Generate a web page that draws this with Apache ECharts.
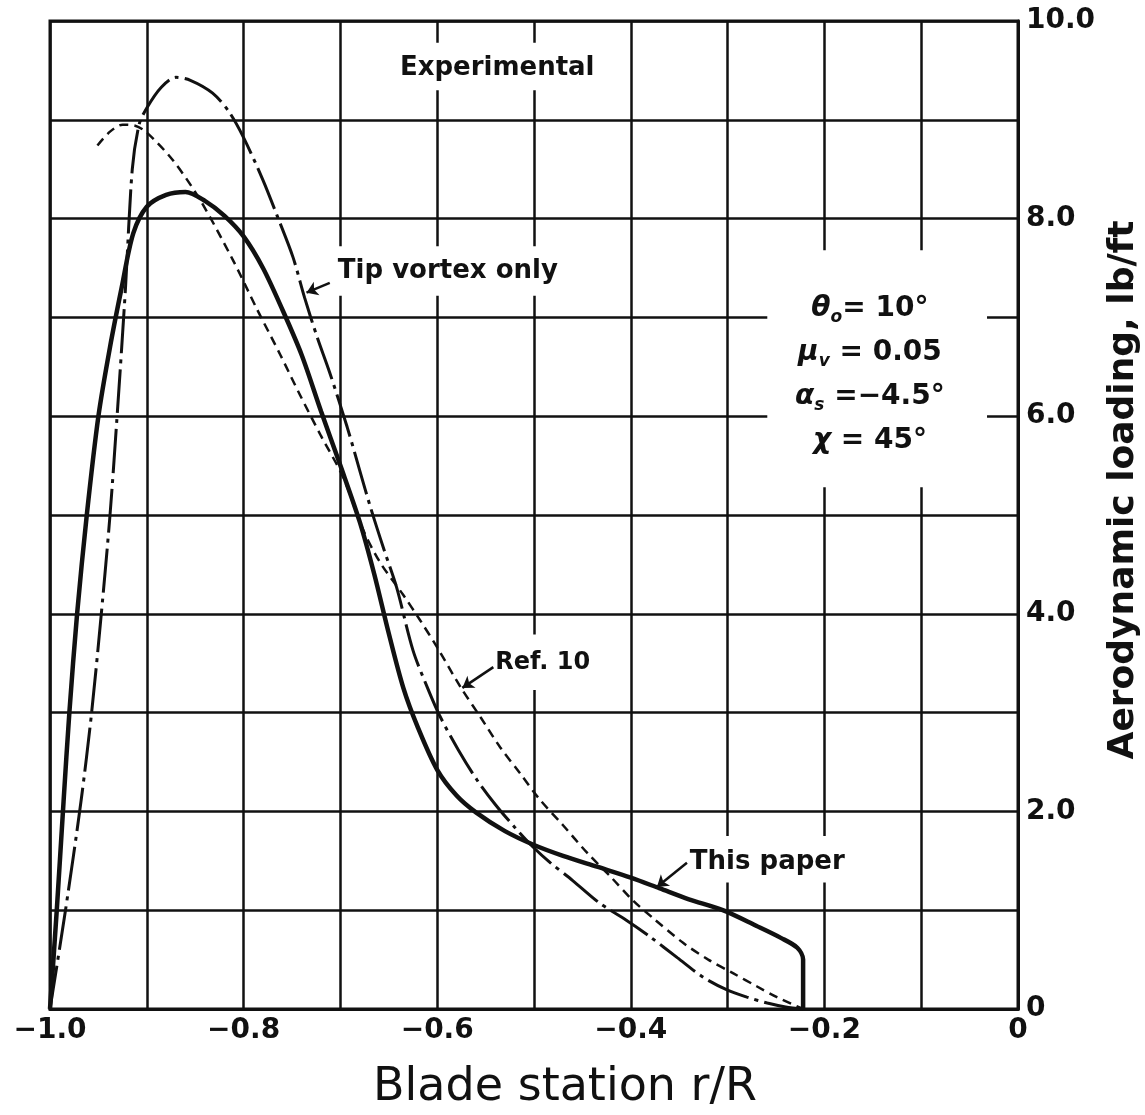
<!DOCTYPE html>
<html>
<head>
<meta charset="utf-8">
<script src="https://cdn.jsdelivr.net/npm/echarts@6/dist/echarts.min.js"></script>
<style>
  html, body { margin: 0; padding: 0; background: #fff; }
  #chart { width: 1145px; height: 1115px; }
</style>
</head>
<body>
<div id="chart"></div>
<script>
// tick labels (only every other grid line carries a label)
const xTickLabels = ['\u22121.0', '\u22120.8', '\u22120.6', '\u22120.4', '\u22120.2', '0'];
const yTickLabels = ['0', '2.0', '4.0', '6.0', '8.0', '10.0'];

// "This paper" - heavy solid curve [r/R, lb/ft]
const thisPaper = [
  [-1.0, 0], [-0.993, 1.0], [-0.986, 2.1], [-0.980, 3.0], [-0.972, 4.0], [-0.962, 5.0],
  [-0.950, 6.0], [-0.938, 6.7], [-0.926, 7.3], [-0.914, 7.85], [-0.900, 8.12], [-0.880, 8.24],
  [-0.860, 8.27], [-0.840, 8.18], [-0.820, 8.03], [-0.800, 7.82], [-0.780, 7.50], [-0.760, 7.08],
  [-0.740, 6.62], [-0.720, 6.05], [-0.700, 5.50], [-0.680, 4.93], [-0.665, 4.40], [-0.650, 3.80],
  [-0.635, 3.25], [-0.620, 2.85], [-0.600, 2.42], [-0.580, 2.16], [-0.560, 1.99], [-0.530, 1.80],
  [-0.500, 1.66], [-0.470, 1.55], [-0.435, 1.44], [-0.400, 1.33], [-0.370, 1.22], [-0.340, 1.11],
  [-0.305, 1.00], [-0.270, 0.84], [-0.245, 0.72], [-0.228, 0.62], [-0.222, 0.50], [-0.222, 0]
];

// "Tip vortex only" - dash-dot curve
const tipVortex = [
  [-1.0, 0], [-0.984, 1.0], [-0.968, 2.1], [-0.957, 3.0], [-0.947, 4.0], [-0.938, 5.0],
  [-0.930, 6.1], [-0.922, 7.3], [-0.915, 8.5], [-0.908, 8.95], [-0.900, 9.12], [-0.885, 9.33],
  [-0.870, 9.43], [-0.855, 9.40], [-0.832, 9.27], [-0.815, 9.08], [-0.800, 8.82], [-0.780, 8.39],
  [-0.765, 8.02], [-0.749, 7.61], [-0.737, 7.20], [-0.724, 6.80], [-0.711, 6.44], [-0.693, 5.89],
  [-0.680, 5.45], [-0.669, 5.08], [-0.655, 4.65], [-0.642, 4.27], [-0.625, 3.63], [-0.610, 3.25],
  [-0.597, 2.96], [-0.578, 2.62], [-0.559, 2.32], [-0.540, 2.07], [-0.520, 1.84], [-0.501, 1.64],
  [-0.483, 1.48], [-0.460, 1.30], [-0.432, 1.07], [-0.405, 0.90], [-0.380, 0.73], [-0.352, 0.52],
  [-0.325, 0.32], [-0.300, 0.19], [-0.280, 0.12], [-0.259, 0.06], [-0.240, 0.02], [-0.222, 0]
];

// "Ref. 10" - short dashes
const ref10 = [
  [-0.951, 8.74], [-0.938, 8.88], [-0.925, 8.95], [-0.912, 8.94], [-0.900, 8.87], [-0.873, 8.59],
  [-0.845, 8.19], [-0.811, 7.58], [-0.786, 7.08], [-0.762, 6.62], [-0.742, 6.22], [-0.720, 5.80],
  [-0.697, 5.38], [-0.677, 4.86], [-0.659, 4.52], [-0.635, 4.19], [-0.618, 3.94], [-0.600, 3.66],
  [-0.576, 3.26], [-0.555, 2.95], [-0.535, 2.65], [-0.514, 2.38], [-0.494, 2.12], [-0.470, 1.86],
  [-0.445, 1.58], [-0.420, 1.33], [-0.398, 1.10], [-0.377, 0.92], [-0.346, 0.67], [-0.320, 0.50],
  [-0.294, 0.36], [-0.270, 0.23], [-0.249, 0.12], [-0.222, 0]
];

const FONT = 'DejaVu Sans';
const INK = '#111';

// text notes placed in data space
const notes = [
  { pos: [-0.538, 9.52], size: 26, text: 'Experimental' },
  { pos: [-0.589, 7.47], size: 26, text: 'Tip vortex only' },
  { pos: [-0.491, 3.50], size: 24, text: 'Ref. 10' },
  { pos: [-0.259, 1.49], size: 26, text: 'This paper' },
  { pos: [-0.153, 6.42], size: 28,
    text: '{g|\u03b8}{s|o}{n|= 10\u00b0}\n{g|\u03bc}{s|v}{n| = 0.05}\n{g|\u03b1}{s|s}{n| =\u22124.5\u00b0}\n{g|\u03c7}{n| = 45\u00b0}' }
];

// leader arrows [from, to]
const arrows = [
  [[-0.711, 7.35], [-0.735, 7.25]],
  [[-0.542, 3.46], [-0.574, 3.25]],
  [[-0.342, 1.48], [-0.373, 1.235]]
];

// white patches where the grid is broken around the lettering
const gridGaps = [
  [[-0.63, 9.30], [-0.43, 9.78]],
  [[-0.72, 7.22], [-0.45, 7.72]],
  [[-0.545, 3.23], [-0.44, 3.79]],
  [[-0.345, 1.28], [-0.17, 1.75]],
  [[-0.259, 5.28], [-0.032, 7.68]]
];

const chart = echarts.init(document.getElementById('chart'));

const option = {
  backgroundColor: '#fff',
  animation: false,
  grid: {
    left: 50, right: 127, top: 21, bottom: 106,
    show: true, borderColor: INK, borderWidth: 3, backgroundColor: '#fff',
    outerBoundsMode: 'none'
  },
  xAxis: {
    type: 'value', min: -1, max: 0, interval: 0.1,
    name: 'Blade station r/R', nameLocation: 'middle', nameGap: 56,
    nameTextStyle: { fontFamily: FONT, fontSize: 46, color: INK, padding: [0, 0, 0, 62] },
    axisLine: { show: true, lineStyle: { color: INK, width: 3 } },
    axisTick: { show: false },
    splitLine: { show: true, showMinLine: true, showMaxLine: true, lineStyle: { color: INK, width: 2.5 } },
    axisLabel: {
      showMinLabel: true, showMaxLabel: true, margin: 8,
      fontFamily: FONT, fontWeight: 'bold', fontSize: 28, color: INK,
      formatter: (v) => {
        const k = Math.round((v + 1) * 10);
        return k % 2 === 0 ? xTickLabels[k / 2] : '';
      }
    }
  },
  yAxis: {
    type: 'value', min: 0, max: 10, interval: 1, position: 'right',
    name: 'Aerodynamic loading, lb/ft', nameLocation: 'middle', nameGap: 80,
    nameTextStyle: { fontFamily: FONT, fontWeight: 'bold', fontSize: 36, color: INK, padding: [0, 0, 0, 50] },
    axisLine: { show: true, lineStyle: { color: INK, width: 3 } },
    axisTick: { show: false },
    splitLine: { show: true, showMinLine: true, showMaxLine: true, lineStyle: { color: INK, width: 2.5 } },
    axisLabel: {
      showMinLabel: true, showMaxLabel: true, margin: 8,
      fontFamily: FONT, fontWeight: 'bold', fontSize: 28, color: INK,
      formatter: (v) => {
        const k = Math.round(v);
        return k % 2 === 0 ? yTickLabels[k / 2] : '';
      }
    }
  },
  series: [
    {
      name: 'This paper', type: 'line', data: thisPaper, smooth: 0.3,
      showSymbol: false, symbol: 'none', clip: false, z: 4,
      lineStyle: { color: INK, width: 4.5 }
    },
    {
      name: 'Tip vortex only', type: 'line', data: tipVortex, smooth: 0.3,
      showSymbol: false, symbol: 'none', clip: false, z: 3,
      lineStyle: { color: INK, width: 3, type: [44, 6, 4, 6] }
    },
    {
      name: 'Ref. 10', type: 'line', data: ref10, smooth: 0.3,
      showSymbol: false, symbol: 'none', clip: false, z: 3,
      lineStyle: { color: INK, width: 2.5, type: [9, 6] }
    },
    {
      name: 'notes', type: 'scatter', symbolSize: 0, silent: true, z: 5,
      itemStyle: { opacity: 1, color: INK },
      emphasis: { disabled: true },
      data: notes.map((n) => ({ value: n.pos, label: { fontSize: n.size, formatter: n.text } })),
      label: {
        show: true, position: 'inside', color: INK, opacity: 1,
        textBorderWidth: 0,
        fontFamily: FONT, fontWeight: 'bold', align: 'center',
        rich: {
          g: { fontFamily: FONT, fontWeight: 'bold', fontStyle: 'italic', fontSize: 28, lineHeight: 44, color: INK },
          s: { fontFamily: FONT, fontWeight: 'bold', fontStyle: 'italic', fontSize: 17, padding: [18, 0, 0, 0], color: INK },
          n: { fontFamily: FONT, fontWeight: 'bold', fontSize: 28, lineHeight: 44, color: INK }
        }
      },
      markArea: {
        silent: true,
        itemStyle: { color: '#fff', borderWidth: 0, opacity: 1 },
        label: { show: false },
        data: gridGaps.map(([a, b]) => [{ coord: a }, { coord: b }])
      },
      markLine: {
        silent: true, animation: false,
        symbol: ['none', 'arrow'], symbolSize: 11,
        label: { show: false },
        lineStyle: { color: INK, width: 2.5, type: 'solid', opacity: 1 },
        data: arrows.map(([a, b]) => [{ coord: a }, { coord: b }])
      }
    }
  ]
};

chart.setOption(option);
window.addEventListener('resize', () => chart.resize());
</script>
</body>
</html>
